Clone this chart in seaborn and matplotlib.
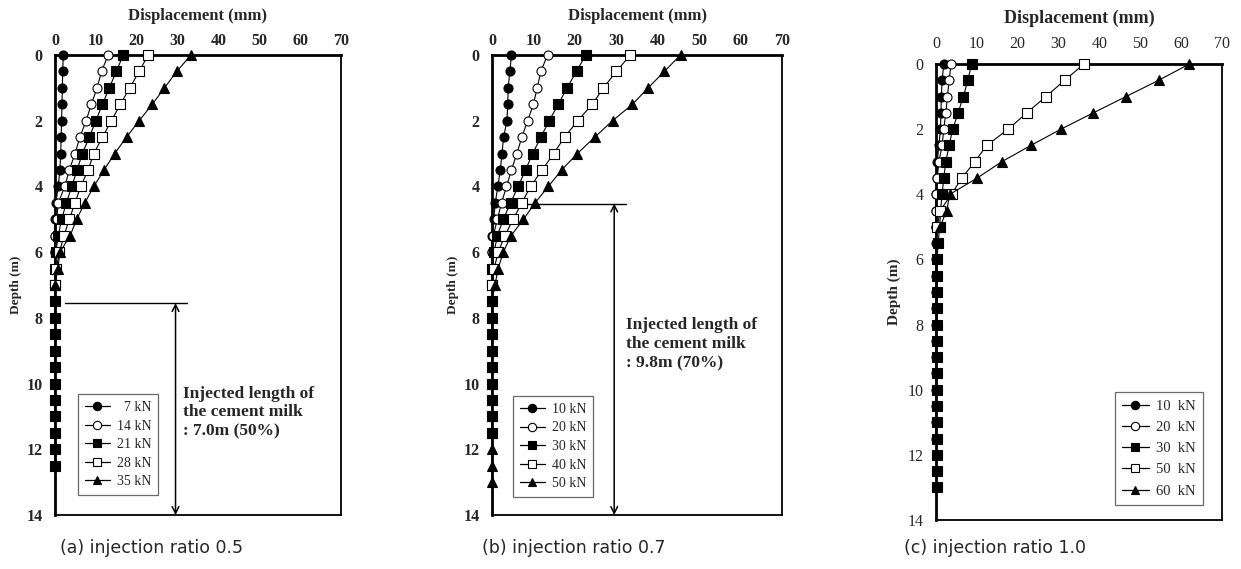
import numpy as np
import pandas as pd
import seaborn as sns
import matplotlib
matplotlib.use("Agg")
import matplotlib.pyplot as plt
from matplotlib.lines import Line2D

sns.set_style("white")
plt.rcParams["font.family"] = ["Liberation Serif", "DejaVu Serif"]

# ---- data ----
DEPTH_A = [0, 0.5, 1, 1.5, 2, 2.5, 3, 3.5, 4, 4.5, 5, 5.5, 6, 6.5, 7, 7.5, 8, 8.5,
           9, 9.5, 10, 10.5, 11, 11.5, 12, 12.5]
DEPTH_BC = [0, 0.5, 1, 1.5, 2, 2.5, 3, 3.5, 4, 4.5, 5, 5.5, 6, 6.5, 7, 7.5, 8, 8.5,
            9, 9.5, 10, 10.5, 11, 11.5, 12, 12.5, 13]

LOADS_A = ["  7 kN", "14 kN", "21 kN", "28 kN", "35 kN"]
DISP_A_7 = [2.0, 1.9, 1.8, 1.7, 1.6, 1.5, 1.4, 1.2, 0.8, 0.2, 0, 0, 0, 0, 0, 0, 0, 0, 0, 0]
DISP_A_14 = [13.0, 11.4, 10.3, 8.9, 7.6, 6.1, 4.9, 3.5, 2.4, 0.8, 0.4, 0.1, 0, 0]
DISP_A_21 = [16.7, 15.0, 13.3, 11.6, 10.0, 8.4, 6.7, 5.4, 4.1, 2.8, 1.6, 0.8, 0.2, 0,
             0, 0, 0, 0, 0, 0, 0, 0, 0, 0, 0, 0]
DISP_A_28 = [22.8, 20.6, 18.3, 16.0, 13.8, 11.6, 9.5, 8.1, 6.3, 4.9, 3.5, 2.2, 1.1, 0.3, 0]
DISP_A_35 = [33.3, 29.8, 26.8, 23.8, 20.6, 17.5, 14.6, 12.0, 9.5, 7.3, 5.3, 3.7, 1.2, 0.7, 0]

LOADS_B = ["10 kN", "20 kN", "30 kN", "40 kN", "50 kN"]
DISP_B_10 = [4.7, 4.3, 3.9, 3.8, 3.6, 2.8, 2.4, 2.0, 1.4, 0.8, 0.4, 0, 0, 0, 0, 0, 0, 0, 0]
DISP_B_20 = [13.4, 11.8, 10.9, 10.0, 8.6, 7.2, 6.0, 4.7, 3.5, 2.3, 1.3, 0.3, 0, 0]
DISP_B_30 = [22.6, 20.4, 18.1, 16.0, 13.8, 11.8, 9.8, 8.1, 6.3, 4.5, 2.7, 1.3, 0.5, 0,
             0, 0, 0, 0, 0, 0, 0, 0, 0, 0]
DISP_B_40 = [33.4, 30.0, 26.9, 24.2, 20.7, 17.5, 14.9, 12.1, 9.3, 7.2, 5.1, 3.1, 1.5, 0.5, 0]
DISP_B_50 = [45.5, 41.6, 37.7, 33.9, 29.1, 24.8, 20.6, 16.8, 13.6, 10.4, 7.6, 4.6, 2.7, 1.5,
             0.7, 0, 0, 0, 0, 0, 0, 0, 0, 0, 0, 0, 0]

LOADS_C = ["10  kN", "20  kN", "30  kN", "50  kN", "60  kN"]
DISP_C_10 = [1.9, 1.5, 1.3, 1.2, 1.1, 0.7, 0.3, 0.2, 0, 0, 0, 0, 0, 0, 0, 0, 0, 0, 0, 0,
             0, 0, 0, 0]
DISP_C_20 = [3.7, 3.2, 2.8, 2.4, 1.9, 1.5, 0.7, 0.3, 0, 0, 0]
DISP_C_30 = [8.7, 7.8, 6.7, 5.4, 4.1, 3.2, 2.4, 1.9, 1.5, 1.1, 0.9, 0.5, 0.3, 0.2, 0.2,
             0.2, 0.2, 0.2, 0.2, 0.2, 0.2, 0.2, 0.2, 0.2, 0.2, 0.2, 0.2]
DISP_C_50 = [36.2, 31.5, 26.9, 22.2, 17.7, 12.4, 9.5, 6.3, 3.8, 1.0, 0.3]
DISP_C_60 = [62.0, 54.5, 46.5, 38.5, 30.6, 23.2, 16.1, 10.1, 3.4, 2.6, 1.0]

INJ_TEXT_A = "Injected length of\nthe cement milk\n: 7.0m (50%)"
INJ_TEXT_B = "Injected length of\nthe cement milk\n: 9.8m (70%)"
CAPTIONS = ["(a) injection ratio 0.5", "(b) injection ratio 0.7", "(c) injection ratio 1.0"]

MARKERS = [("o", "black"), ("o", "white"), ("s", "black"), ("s", "white"), ("^", "black")]

W, H = 1241, 569
fig = plt.figure(figsize=(W / 100, H / 100), dpi=100)


def make_axes(left, right, top, bottom):
    return fig.add_axes([left / W, 1 - bottom / H, (right - left) / W, (bottom - top) / H])


def draw_panel(ax, depth, series, labels, order, bold_ticks, leg_box, xpad, xlabpad,
               ylabpad, leg_fs, leg_space):
    handles = []
    for i, disp in enumerate(series):
        mk, fc = MARKERS[i]
        handles.append(Line2D([], [], color="black", lw=0.9, marker=mk, markersize=6,
                              markerfacecolor=fc, markeredgecolor="black", markeredgewidth=0.8))
    for i in order:
        disp = series[i]
        mk, fc = MARKERS[i]
        df = pd.DataFrame({"disp": disp, "depth": depth[:len(disp)]})
        sns.lineplot(data=df, x="disp", y="depth", sort=False, estimator=None, ax=ax,
                     color="black", lw=0.8, marker=mk, markersize=6.5,
                     markerfacecolor=fc, markeredgecolor="black", markeredgewidth=0.8,
                     clip_on=False, zorder=3 + i)
    ax.set_xlim(0, 70)
    ax.set_ylim(14, 0)
    ax.xaxis.tick_top()
    ax.xaxis.set_label_position("top")
    ax.set_xticks(range(0, 71, 10))
    ax.set_yticks(range(0, 15, 2))
    weight = "bold" if bold_ticks else "normal"
    ax.tick_params(axis="both", length=0, labelsize=11.5)
    ax.tick_params(axis="x", pad=xpad)
    ax.tick_params(axis="y", pad=9)
    for t in ax.get_xticklabels() + ax.get_yticklabels():
        t.set_fontweight(weight)
    ax.set_xlabel("Displacement (mm)", fontsize=12 if bold_ticks else 13,
                  fontweight="bold", labelpad=xlabpad)
    ax.set_ylabel("Depth (m)", fontsize=9.5 if bold_ticks else 11,
                  fontweight="bold", labelpad=ylabpad)
    for side, sp in ax.spines.items():
        sp.set_color("black")
        sp.set_linewidth(2.0 if side in ("top", "left") else 1.3)
    leg = ax.legend(handles, labels, loc="lower left", bbox_to_anchor=leg_box,
                    borderaxespad=0, frameon=True, fancybox=False, fontsize=leg_fs,
                    handlelength=1.8, handletextpad=0.5, labelspacing=leg_space,
                    borderpad=0.5)
    leg.get_frame().set_edgecolor("#444444")
    leg.get_frame().set_linewidth(0.9)


def injection_marker(ax, y_line, x0, x1, x_arrow, text, tx, ty):
    ax.plot([x0, x1], [y_line, y_line], color="black", lw=1.0, zorder=2)
    ax.annotate("", xy=(x_arrow, 14), xytext=(x_arrow, y_line),
                arrowprops=dict(arrowstyle="<->", color="black", lw=1.1,
                                shrinkA=0, shrinkB=0, mutation_scale=12))
    ax.text(tx, ty, text, fontsize=12.5, fontweight="bold", va="center", ha="left",
            linespacing=1.24)


# (a)
ax_a = make_axes(55, 341, 55, 515)
draw_panel(ax_a, DEPTH_A, [DISP_A_7, DISP_A_14, DISP_A_21, DISP_A_28, DISP_A_35],
           LOADS_A, [4, 3, 2, 1, 0], True, (0.08, 0.043), 4.5, 9, 3, 10, 0.4)
injection_marker(ax_a, 7.55, 2.5, 32.4, 29.5, INJ_TEXT_A, 31.3, 10.88)

# (b)
ax_b = make_axes(492, 782, 55, 515)
draw_panel(ax_b, DEPTH_BC, [DISP_B_10, DISP_B_20, DISP_B_30, DISP_B_40, DISP_B_50],
           LOADS_B, [4, 3, 2, 1, 0], True, (0.072, 0.039), 4.5, 9, 3, 10, 0.4)
injection_marker(ax_b, 4.52, 2.0, 32.4, 29.5, INJ_TEXT_B, 32.3, 8.8)

# (c)
ax_c = make_axes(936, 1222, 64, 520)
draw_panel(ax_c, DEPTH_BC, [DISP_C_10, DISP_C_20, DISP_C_30, DISP_C_50, DISP_C_60],
           LOADS_C, [0, 1, 2, 3, 4], False, (0.626, 0.033), 8.7, 9.7, 5, 10.5, 0.55)

for cx, cap in zip([152, 574, 995], CAPTIONS):
    fig.text(cx / W, 1 - 548 / H, cap, ha="center", va="center",
             fontsize=12.5, family=["DejaVu Sans"])

fig.savefig("out.png", dpi=100)
